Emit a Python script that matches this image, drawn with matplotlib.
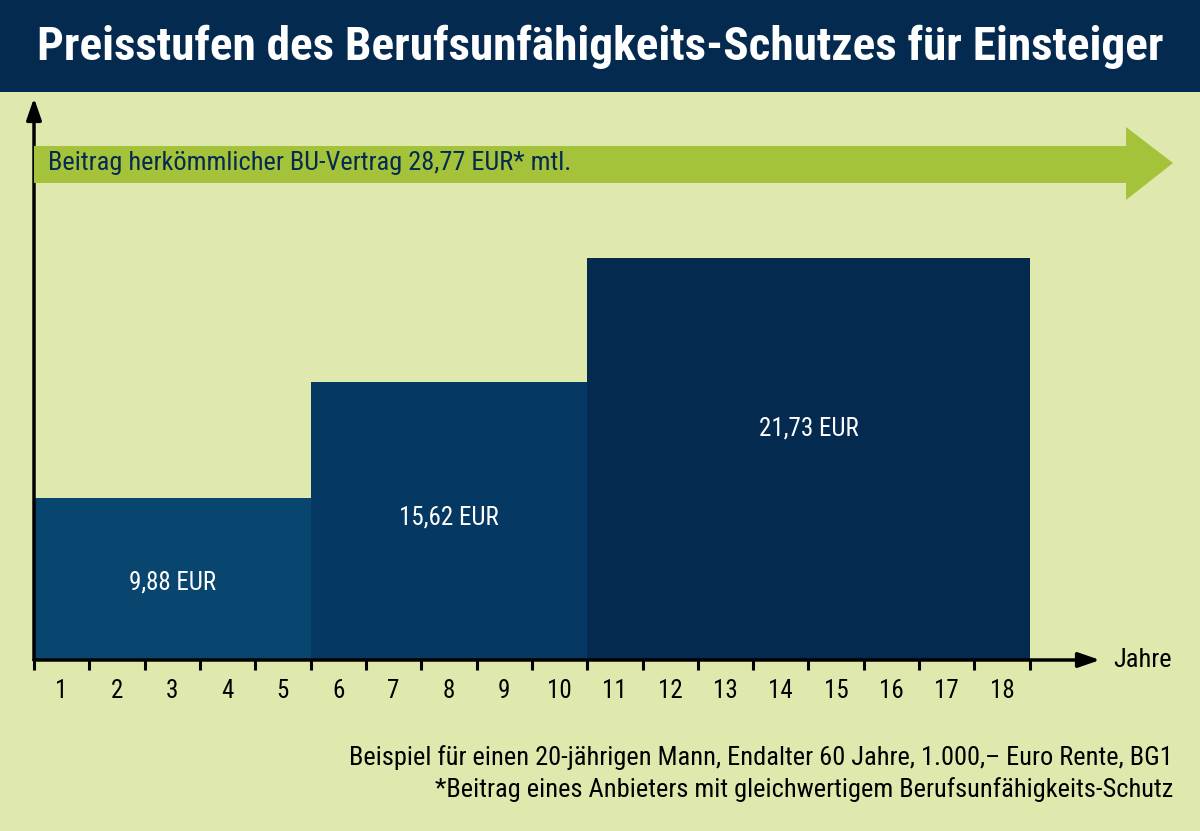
import matplotlib
matplotlib.use("Agg")
import matplotlib.pyplot as plt
from matplotlib import font_manager as fm
from matplotlib.patches import Rectangle, Polygon

# Daten
stufen_start = [0, 5, 10]
stufen_dauer = [5, 5, 8]
beitraege = [9.88, 15.62, 21.73]
beitrag_labels = ["9,88 EUR", "15,62 EUR", "21,73 EUR"]
herkoemmlich = "28,77"
jahre = list(range(1, 19))

title = "Preisstufen des Berufsunfähigkeits-Schutzes für Einsteiger"
fussnote1 = "Beispiel für einen 20-jährigen Mann, Endalter 60 Jahre, 1.000,– Euro Rente, BG1"
fussnote2 = "*Beitrag eines Anbieters mit gleichwertigem Berufsunfähigkeits-Schutz"

bg = "#dfe9ad"
navy = "#052a50"
bar_colors = ["#08456f", "#053963", "#042a4f"]
green = "#a4c23a"

# Schmale Schrift suchen, falls vorhanden
names = {f.name for f in fm.fontManager.ttflist}
cond = "DejaVu Sans"
for n in ["Roboto Condensed", "Liberation Sans Narrow", "Open Sans Condensed", "DejaVu Sans Condensed"]:
    if n in names:
        cond = n
        break
plt.rcParams["font.family"] = [cond, "DejaVu Sans"]

fig = plt.figure(figsize=(12, 8.31), dpi=100, facecolor=bg)

# Titelbalken
fig.patches.append(Rectangle((0, 0.889), 1, 0.111, transform=fig.transFigure,
                             facecolor=navy, edgecolor="none", zorder=0))
fig.text(0.5, 0.9434, title, color="white", fontsize=34, fontweight="bold",
         ha="center", va="center")

ax = fig.add_axes([34 / 1200, 171 / 831, (1100 - 34) / 1200, 562 / 831])
ax.set_facecolor("none")
ax.set_xlim(0, 19.27)
ax.set_ylim(1.876, 29.63)

for s, d, v, c in zip(stufen_start, stufen_dauer, beitraege, bar_colors):
    ax.bar(s, v, width=d, align="edge", color=c, edgecolor="none", zorder=1)

label_frac = [0.575, 0.572, 0.613]
for s, d, v, lab, f in zip(stufen_start, stufen_dauer, beitraege, beitrag_labels, label_frac):
    ax.text(s + d / 2, v * f, lab, color="white", fontsize=18,
            ha="center", va="center", zorder=3)

# Achsen mit Pfeilen
for sp in ax.spines.values():
    sp.set_visible(False)
ax.annotate("", xy=(1, 0), xytext=(0, 0), xycoords="axes fraction",
            arrowprops=dict(arrowstyle="-|>,head_length=1.3,head_width=0.45",
                            color="black", lw=2.5, shrinkA=0, shrinkB=0), zorder=4)
ax.annotate("", xy=(0, 1), xytext=(0, 0), xycoords="axes fraction",
            arrowprops=dict(arrowstyle="-|>,head_length=1.3,head_width=0.45",
                            color="black", lw=2.5, shrinkA=0, shrinkB=0), zorder=4)

ax.set_xticks(range(0, 19))
ax.set_xticklabels([])
ax.tick_params(axis="x", which="major", direction="out", length=7, width=2.2, color="black")
ax.set_xticks([j - 0.5 for j in jahre], minor=True)
ax.set_xticklabels([str(j) for j in jahre], minor=True, fontsize=18)
ax.tick_params(axis="x", which="minor", length=0, pad=14)
ax.set_yticks([])
ax.text(1113 / 1200, 171 / 831, "Jahre", transform=fig.transFigure,
        fontsize=19, ha="left", va="center")

# grüner Pfeil (herkömmlicher Vertrag)
body_top, body_bot = 1 - 146 / 831, 1 - 183 / 831
head_top, head_bot, tip_y = 1 - 127 / 831, 1 - 200 / 831, 1 - 163 / 831
x0, xh, xt = 34 / 1200, 1126 / 1200, 1173 / 1200
pts = [(x0, body_top), (xh, body_top), (xh, head_top), (xt, tip_y),
       (xh, head_bot), (xh, body_bot), (x0, body_bot)]
fig.patches.append(Polygon(pts, closed=True, transform=fig.transFigure,
                           facecolor=green, edgecolor="none", zorder=1))
fig.text(48 / 1200, tip_y, f"Beitrag herkömmlicher BU-Vertrag {herkoemmlich} EUR* mtl.",
         color=navy, fontsize=19, ha="left", va="center")

fig.text(1173 / 1200, 1 - 758 / 831, fussnote1, fontsize=19, ha="right", va="center")
fig.text(1173 / 1200, 1 - 790 / 831, fussnote2, fontsize=19, ha="right", va="center")

fig.savefig("out.png", dpi=100, facecolor=bg)
